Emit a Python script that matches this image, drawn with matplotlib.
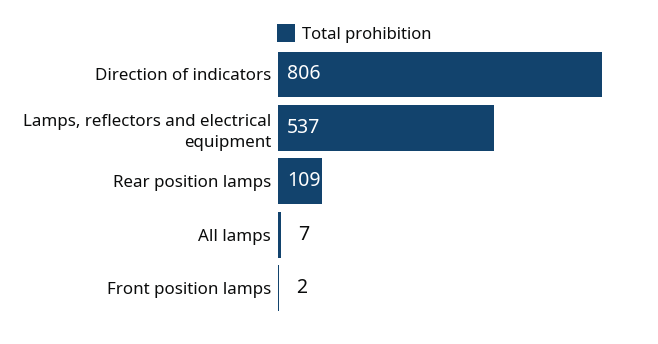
import matplotlib
matplotlib.use("Agg")
import matplotlib.pyplot as plt
from matplotlib.transforms import offset_copy

categories = ["Direction of indicators",
              "Lamps, reflectors and electrical\nequipment",
              "Rear position lamps",
              "All lamps",
              "Front position lamps"]
values = [806, 537, 109, 7, 2]
series_name = "Total prohibition"

bar_colour = "#12436D"
text_colour = "#0b0c0c"

plt.rcParams['font.family'] = ['Noto Sans', 'DejaVu Sans']

fig = plt.figure(figsize=(6.58, 3.44), dpi=100)
ax = fig.add_axes([278/658, 1 - 314.7/344, (602 - 278)/658, (314.7 - 47.8)/344])

y = range(len(categories))
ax.barh(y, values, height=0.86, color=bar_colour, label=series_name)
ax.set_xlim(0, max(values))
ax.set_ylim(len(categories) - 0.5, -0.5)

ax.set_yticks(list(y))
ax.set_yticklabels(categories, fontsize=12.2, color=text_colour, linespacing=1.4)
ax.tick_params(axis='y', length=0, pad=5)
ax.set_xticks([])
for s in ax.spines.values():
    s.set_visible(False)

for i, v in enumerate(values):
    if v > 50:
        t = offset_copy(ax.transData, fig=fig, x=9, y=0, units='dots')
        ax.text(0, i, str(v), transform=t, ha='left', va='center',
                color='white', fontsize=14)
    else:
        t = offset_copy(ax.transData, fig=fig, x=17, y=0, units='dots')
        ax.text(v, i, str(v), transform=t, ha='left', va='center',
                color=text_colour, fontsize=14)

leg = fig.legend(loc='upper left', bbox_to_anchor=(277/658, 1 - 24/344),
                 frameon=False, fontsize=12, handlelength=1.08, handleheight=1.3,
                 handletextpad=0.45, borderaxespad=0, borderpad=0)
for txt in leg.get_texts():
    txt.set_color(text_colour)

fig.savefig("out.png", dpi=100)
